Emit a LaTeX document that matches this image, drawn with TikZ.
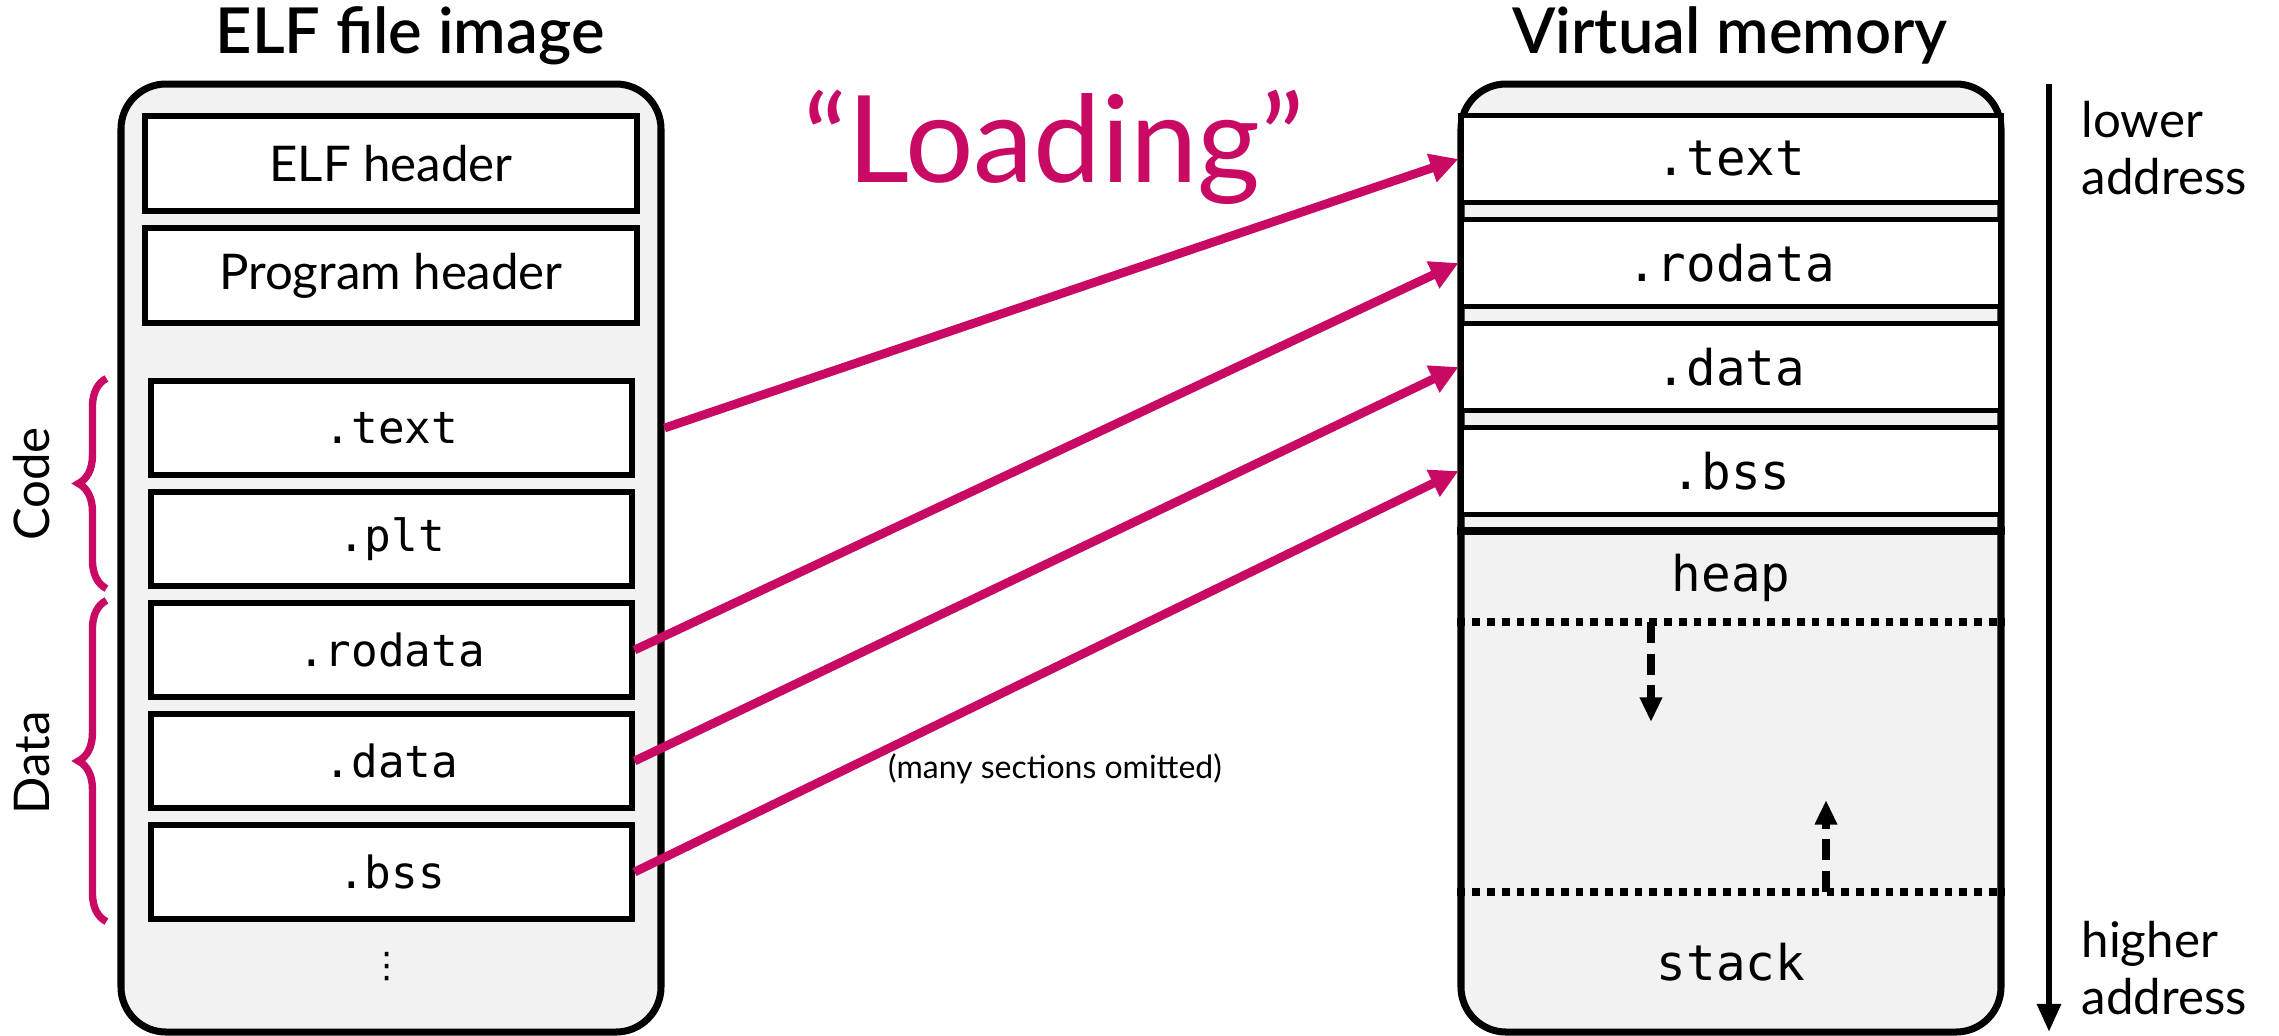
\documentclass[tikz,border=0pt]{standalone}
\usepackage{fontspec}
\setmainfont{Lato}
\setmonofont{DejaVu Sans Mono}
\newfontfamily\headfont{Lato Semibold}
\newfontfamily\symfont{DejaVu Sans}
\usetikzlibrary{arrows.meta,positioning,calc,decorations.pathreplacing}
\definecolor{loadpink}{HTML}{C80A64}
\definecolor{bggray}{HTML}{F2F2F2}

\begin{document}
\begin{tikzpicture}[>=Stealth,
 frame/.style={draw,line width=2pt,fill=bggray,rounded corners=0.45cm,minimum width=5.40cm,minimum height=9.48cm},
 hdr/.style={draw,line width=1.45pt,fill=white,minimum width=4.92cm,minimum height=0.95cm,font=\fontsize{14}{16}\selectfont},
 sect/.style={draw,line width=1.45pt,fill=white,minimum width=4.81cm,minimum height=0.94cm,font=\ttfamily\fontsize{12.6}{15}\selectfont},
 seg/.style={sect,minimum width=5.40cm,minimum height=0.87cm,font=\ttfamily\fontsize{14}{16}\selectfont},
 load/.style={draw=loadpink,line width=2.5pt,-{Triangle[length=8pt,width=8pt]}},
 growarrow/.style={line width=2.1pt,dash pattern=on 6pt off 3pt,-{Triangle[length=7pt,width=6pt]}},
 bound/.style={line width=2.3pt,dash pattern=on 2.2pt off 2pt},
 brc/.style={draw=loadpink,line width=2.1pt,decorate,decoration={brace,amplitude=0.28cm}},
 lbl/.style={font=\fontsize{14}{16}\selectfont},
 head/.style={font=\headfont\fontsize{18}{20}\selectfont,anchor=base}]
\useasboundingbox (0,0) rectangle (22.79,-10.35);

% ELF file image
\node[head] (elftitle) at (4.10,-0.53) {ELF file image};
\node[frame] (elf) at (3.91,-5.58) {};
\node[hdr] (ehdr) at (3.91,-1.635) {ELF header};
\node[hdr] (phdr) at (3.91,-2.755) {Program header};
\foreach \n/\t/\y in {ftext/.text/4.28,fplt/.plt/5.39,frodata/.rodata/6.50,fdata/.data/7.61,fbss/.bss/8.72}
  \node[sect] (\n) at (3.915,-\y) {\t};
\node[font=\symfont\fontsize{10}{12}\selectfont] (fdots) at (3.87,-9.67) {⋮};

% code / data braces
\draw[brc] ([xshift=-0.42cm]fplt.south west) -- ([xshift=-0.42cm]ftext.north west);
\draw[brc] ([xshift=-0.42cm]fbss.south west) -- ([xshift=-0.42cm]frodata.north west);
\node[lbl,rotate=90] (code) at (0.32,-4.84) {Code};
\node[lbl,rotate=90] (data) at (0.32,-7.63) {Data};

% virtual memory
\node[head] (vmtitle) at (17.30,-0.53) {Virtual memory};
\node[frame] (vm) at (17.31,-5.58) {};
\foreach \n/\t/\y in {vtext/.text/1.59,vrodata/.rodata/2.63,vdata/.data/3.67,vbss/.bss/4.71}
  \node[seg] (\n) at (17.31,-\y) {\t};
\coordinate (heaptop) at (17.31,-5.31);
\coordinate (hbrk) at (16.51,-6.22);
\coordinate (sptr) at (18.26,-8.92);
\draw[line width=2.1pt] (vm.west |- heaptop) -- (vm.east |- heaptop);
\draw[bound] (vm.west |- hbrk) -- (vm.east |- hbrk);
\draw[bound] (vm.west |- sptr) -- (vm.east |- sptr);
\draw[growarrow] (hbrk) -- ++(0,-1.00);
\draw[growarrow] (sptr) -- ++(0,0.92);
\node[seg,draw=none,fill=none] (heap) at (17.31,-5.78) {heap};
\node[seg,draw=none,fill=none] (stack) at (17.31,-9.62) {stack};

% address direction
\coordinate (atop) at (20.49,-0.84);
\coordinate (abot) at (20.49,-10.32);
\draw[line width=1.8pt,-{Triangle[length=8pt,width=6.5pt]}] (atop) -- (abot);
\node[lbl,align=left,anchor=west,inner sep=0pt] (lower) at (20.81,-1.48) {lower\\address};
\node[lbl,align=left,anchor=west,inner sep=0pt] (higher) at (20.81,-9.68) {higher\\address};

% loading
\node[text=loadpink,font=\fontsize{34.4}{38}\selectfont,anchor=base] (loading) at (10.54,-1.82) {“Loading”};
\node[font=\fontsize{9.1}{11}\selectfont] (omit) at (10.55,-7.69) {(many sections omitted)};
\draw[load] (ftext.east -| elf.east) -- (vtext.west);
\foreach \a/\b in {frodata/vrodata,fdata/vdata,fbss/vbss}
  \draw[load] (\a.east) -- (\b.west);
\end{tikzpicture}
\end{document}
